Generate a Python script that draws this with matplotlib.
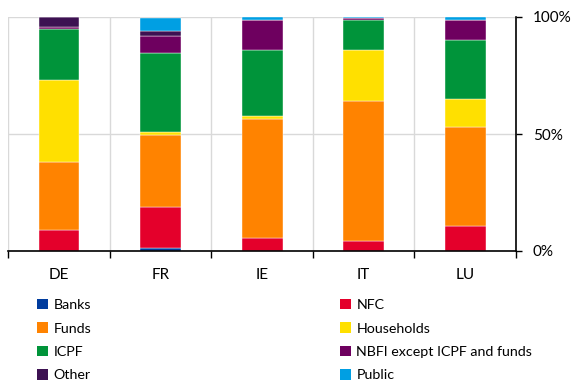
import numpy as np
import matplotlib.pyplot as plt
from matplotlib.patches import Patch

countries = ['DE', 'FR', 'IE', 'IT', 'LU']

# shares in percent, stacked bottom to top
banks = [0.0, 1.2, 0.0, 0.0, 0.0]
nfc = [8.8, 17.6, 5.5, 4.1, 10.8]
funds = [29.4, 30.8, 50.7, 60.1, 42.2]
households = [34.8, 1.1, 1.4, 21.9, 11.9]
icpf = [21.9, 33.8, 28.4, 12.8, 25.1]
nbfi = [0.9, 7.2, 12.8, 0.7, 8.8]
other = [4.3, 2.3, 0.0, 0.0, 0.0]
public = [0.0, 5.7, 1.1, 0.4, 1.1]

labels = ['Banks', 'NFC', 'Funds', 'Households', 'ICPF',
          'NBFI except ICPF and funds', 'Other', 'Public']
series = [banks, nfc, funds, households, icpf, nbfi, other, public]
colors = ['#003C9E', '#E4002B', '#FF8300', '#FFE000', '#00943A',
          '#6E005F', '#3D1152', '#009FE3']

plt.rcParams['font.family'] = ['Lato', 'DejaVu Sans']

fig = plt.figure(figsize=(5.76, 3.85), dpi=100)
ax = fig.add_axes([8.4 / 576, 134 / 385, 507.6 / 576, 234 / 385])

x = np.arange(len(countries))
bottom = np.zeros(len(countries))
for vals, col in zip(series, colors):
    vals = np.array(vals)
    ax.bar(x, vals, 0.4, bottom=bottom, color=col, edgecolor='white',
           linewidth=0.3, zorder=3)
    bottom += vals

ax.set_xlim(-0.5, len(countries) - 0.5)
ax.set_ylim(0, 100)

# x axis: labels at centres, tick marks at category boundaries
ax.set_xticks(x)
ax.set_xticklabels(countries, fontsize=11)
ax.set_xticks(np.arange(-0.5, len(countries), 1), minor=True)
ax.tick_params(axis='x', which='major', length=0, pad=12)
ax.tick_params(axis='x', which='minor', length=5, width=1, direction='out', color='black')
ax.grid(axis='x', which='minor', color='#D9D9D9', linewidth=1, zorder=0)

# y axis on the right
ax.yaxis.tick_right()
ax.set_yticks([0, 50, 100])
ax.set_yticklabels(['0%', '50%', '100%'], fontsize=11)
ax.tick_params(axis='y', length=4, width=1, direction='out', pad=8)
ax.grid(axis='y', which='major', color='#D9D9D9', linewidth=1, zorder=0)

for side in ['top', 'left']:
    ax.spines[side].set_visible(False)
ax.spines['bottom'].set_linewidth(1.2)
ax.spines['right'].set_linewidth(1.2)
ax.spines['bottom'].set_zorder(5)

# legend, two columns, filled row by row
handles = [Patch(facecolor=c, edgecolor='none') for c in colors]
common = dict(frameon=False, fontsize=10.3, handlelength=0.75, handleheight=0.75,
              handletextpad=0.4, labelspacing=0.78, borderaxespad=0, borderpad=0)
fig.legend(handles[0::2], labels[0::2], loc='upper left',
           bbox_to_anchor=(37 / 576, 1 - 299 / 385), **common)
fig.legend(handles[1::2], labels[1::2], loc='upper left',
           bbox_to_anchor=(340 / 576, 1 - 299 / 385), **common)

fig.savefig('out.png', dpi=100)
